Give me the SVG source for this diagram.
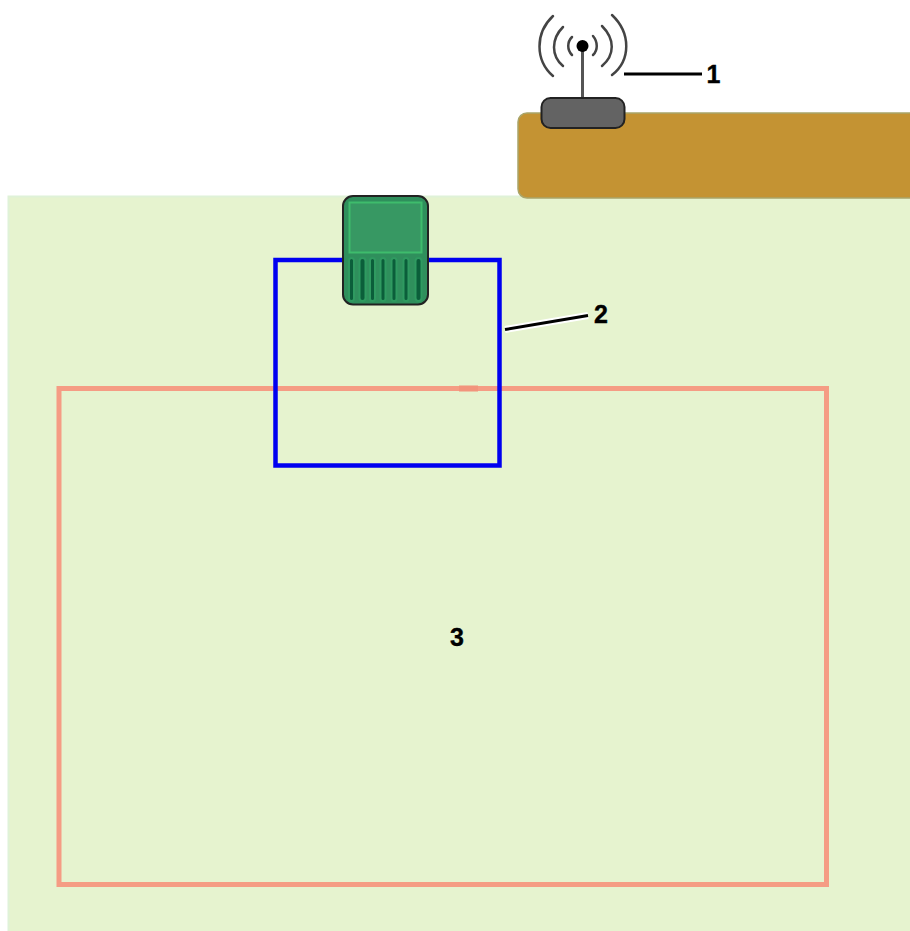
<svg xmlns="http://www.w3.org/2000/svg" width="910" height="931" viewBox="0 0 910 931">
<style>
.lbl{font-family:"Liberation Sans",Arial,sans-serif;font-size:25px;font-weight:700;fill:#000;stroke:#000;stroke-width:0.4;text-anchor:middle}
.wave{fill:none;stroke:#444;stroke-width:2.500;stroke-linecap:round}
.slot{fill:#0b5e3a;stroke:#2f9a60;stroke-width:2}
.lead{stroke:#000;stroke-width:3;fill:none}
</style>
<rect width="910" height="931" fill="#fff"/>
<g id="lawn"><rect x="8.500" y="196.500" width="910" height="750" fill="#e6f3cf" stroke="#dff2d8" stroke-width="2"/></g>
<g id="house"><rect x="518" y="113" width="420" height="85" rx="9" fill="#c49333" stroke="#a9a56a" stroke-width="1.500"/></g>
<g id="zone-3">
<rect x="59" y="388.500" width="767.500" height="496" fill="none" stroke="#f59c84" stroke-width="5"/>
<rect x="459" y="385.500" width="19" height="6" fill="#f2947c"/>
<text class="lbl" x="457" y="646">3</text>
</g>
<g id="zone-2">
<rect x="275.500" y="260" width="224" height="205.500" fill="none" stroke="#0000f0" stroke-width="4.500"/>
</g>
<g id="station-1">
<path class="wave" d="M553 16C535 33 535 60 553 76M563 27C551 39 551 56 563 66M572 37C567 42 567 50 572 55"/>
<path class="wave" d="M612 15C631 33 631 60 612 75M602 26C615 39 615 55 602 66M593 36C598 42 598 50 593 55"/>
<line x1="582.500" y1="46" x2="582.500" y2="99" stroke="#555" stroke-width="3"/>
<circle cx="582.500" cy="46" r="6" fill="#000"/>
<rect x="541.500" y="98" width="83" height="30" rx="9" fill="#636363" stroke="#222" stroke-width="2"/>
</g>
<g id="mower">
<rect x="343" y="196" width="85" height="108.500" rx="10" fill="#2f8f5c" stroke="#222" stroke-width="2"/>
<rect x="349.500" y="202.500" width="72" height="50" fill="#379863" stroke="#3ebc6c" stroke-width="2"/>
<rect class="slot" x="349" y="258" width="5" height="43" rx="2.500"/>
<rect class="slot" x="359.500" y="258" width="6" height="43" rx="3"/>
<rect class="slot" x="370" y="258" width="5" height="43" rx="2.500"/>
<rect class="slot" x="380.500" y="258" width="5" height="43" rx="2.500"/>
<rect class="slot" x="391.500" y="258" width="5" height="43" rx="2.500"/>
<rect class="slot" x="403.500" y="258" width="5" height="43" rx="2.500"/>
<rect class="slot" x="415.500" y="258" width="6" height="43" rx="3"/>
</g>
<g id="connectors">
<line x1="624" y1="74" x2="702" y2="74" class="lead"/>
<line x1="505" y1="329.500" x2="588" y2="315.500" stroke="#fff" stroke-width="7"/>
<line x1="505" y1="329.500" x2="588" y2="315.500" class="lead"/>
</g>
<g id="labels">
<text class="lbl" x="713.500" y="83">1</text>
<text class="lbl" x="601" y="323">2</text>
</g>
</svg>
